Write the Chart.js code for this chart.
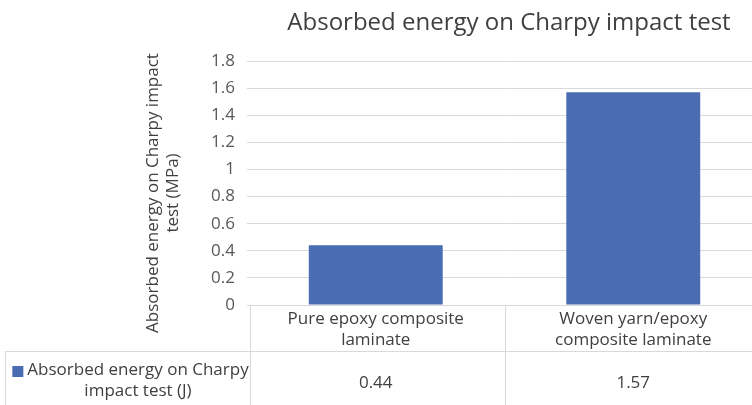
<!DOCTYPE html>
<html>
<head>
<meta charset="utf-8">
<script src="https://cdn.jsdelivr.net/npm/chart.js@4/dist/chart.umd.min.js"></script>
<style>
  html, body { margin: 0; padding: 0; background: #fff; overflow: hidden; }
  #wrap { width: 770px; height: 405px; }
</style>
</head>
<body>
<div id="wrap"><canvas id="c" width="770" height="405"></canvas></div>
<script>
// Chart content
const chartTitle = 'Absorbed energy on Charpy impact test';
const yAxisTitle = ['Absorbed energy on Charpy impact', 'test (MPa)'];
const categories = [
  ['Pure epoxy composite', 'laminate'],
  ['Woven yarn/epoxy', 'composite laminate']
];
const seriesName = ['Absorbed energy on Charpy', 'impact test (J)'];
const seriesValues = [0.44, 1.57];
const yTicks = { min: 0, max: 1.8, step: 0.2 };

const FONT = '"Open Sans", "Noto Sans", sans-serif';
const TEXT = '#404040';
const LINE = '#d9d9d9';
const BAR = '#4a6cb2';

// Title, rotated axis title and the data table under the plot
const decorations = {
  id: 'decorations',
  afterDraw(chart) {
    const ctx = chart.ctx;
    const area = chart.chartArea;
    const x = chart.scales.x;
    ctx.save();

    // chart title
    ctx.fillStyle = TEXT;
    ctx.font = '24px ' + FONT;
    ctx.textAlign = 'center';
    ctx.textBaseline = 'middle';
    ctx.fillText(chartTitle, 509, 23);

    // y axis title
    ctx.save();
    ctx.translate(163, 193);
    ctx.rotate(-Math.PI / 2);
    ctx.font = '17px ' + FONT;
    ctx.fillStyle = TEXT;
    ctx.fillText(yAxisTitle[0], 0, -10);
    ctx.fillText(yAxisTitle[1], 0, 10);
    ctx.restore();

    // table grid
    const n = categories.length;
    const colW = (area.right - area.left) / n;
    const rowTop = area.bottom;
    const rowMid = 351;
    const rowBottom = chart.height + 2;
    const tableLeft = area.left + 3;
    ctx.strokeStyle = LINE;
    ctx.lineWidth = 1;
    ctx.beginPath();
    ctx.moveTo(tableLeft, rowTop + 0.5);
    ctx.lineTo(area.right, rowTop + 0.5);
    ctx.moveTo(5, rowMid + 0.5);
    ctx.lineTo(area.right, rowMid + 0.5);
    ctx.moveTo(5.5, rowMid);
    ctx.lineTo(5.5, rowBottom);
    ctx.moveTo(tableLeft + 0.5, rowTop);
    ctx.lineTo(tableLeft + 0.5, rowBottom);
    for (let i = 1; i <= n; i++) {
      const gx = Math.round(area.left + i * colW) + 0.5;
      ctx.moveTo(gx, rowTop);
      ctx.lineTo(gx, rowBottom);
    }
    ctx.stroke();

    // category labels and values
    ctx.font = '17px ' + FONT;
    ctx.fillStyle = TEXT;
    ctx.textAlign = 'center';
    ctx.textBaseline = 'middle';
    categories.forEach((lines, i) => {
      const cx = x.getPixelForValue(i);
      lines.forEach((t, j) => ctx.fillText(t, cx, 319 + j * 21));
      ctx.fillText(String(seriesValues[i]), cx, 383);
    });

    // series key and name
    ctx.fillText(seriesName[0], 138, 370);
    ctx.fillText(seriesName[1], 138, 391);
    const w0 = ctx.measureText(seriesName[0]).width;
    ctx.fillStyle = BAR;
    ctx.fillRect(138 - w0 / 2 - 15, 366, 11, 11);

    ctx.restore();
  }
};

new Chart(document.getElementById('c'), {
  type: 'bar',
  data: {
    labels: categories,
    datasets: [{
      label: seriesName.join(' '),
      data: seriesValues,
      backgroundColor: BAR,
      borderWidth: 0,
      barPercentage: 0.52,
      categoryPercentage: 1
    }]
  },
  options: {
    responsive: false,
    animation: false,
    events: [],
    layout: { padding: { top: 61, bottom: 100, right: 8, left: 0 } },
    plugins: {
      legend: { display: false },
      title: { display: false },
      tooltip: { enabled: false }
    },
    scales: {
      x: { display: false },
      y: {
        min: yTicks.min,
        max: yTicks.max,
        afterFit(scale) { scale.width = 247; },
        border: { display: false },
        grid: { color: LINE, lineWidth: 1, drawTicks: false },
        ticks: {
          stepSize: yTicks.step,
          padding: 12,
          color: '#595959',
          font: { family: FONT, size: 17 },
          callback: (v) => String(Number(v.toFixed(1)))
        }
      }
    }
  },
  plugins: [decorations]
});
</script>
</body>
</html>
